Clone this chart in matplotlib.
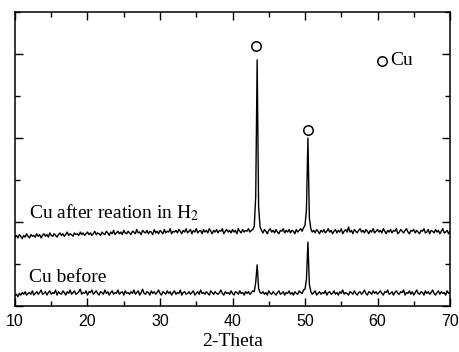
import numpy as np
import matplotlib.pyplot as plt
from matplotlib.ticker import MultipleLocator

# 2-theta grid, 10 to 70 deg in 0.2 deg steps
two_theta = np.round(np.arange(10.0, 70.0001, 0.2), 1)

# intensity (a.u.)
cu_before = [
    12, 14, 11, 15, 13, 16, 14, 17, 13, 15,
    16, 14, 18, 13, 15, 17, 14, 16, 19, 14,
    15, 17, 13, 16, 18, 14, 16, 15, 19, 13,
    17, 15, 14, 18, 16, 13, 17, 15, 19, 14,
    16, 18, 14, 15, 17, 20, 14, 16, 15, 18,
    13, 17, 16, 19, 14, 16, 18, 15, 13, 17,
    16, 14, 19, 15, 17, 13, 16, 18, 14, 16,
    15, 19, 14, 16, 17, 13, 18, 15, 16, 14,
    17, 15, 19, 14, 16, 18, 13, 16, 20, 15,
    14, 17, 16, 13, 18, 15, 17, 14, 16, 19,
    15, 13, 17, 16, 14, 18, 15, 17, 13, 16,
    18, 14, 16, 15, 19, 13, 16, 17, 14, 15,
    17, 14, 16, 18, 13, 15, 17, 14, 19, 15,
    16, 14, 17, 15, 13, 18, 16, 14, 17, 15,
    14, 16, 19, 15, 13, 17, 15, 16, 14, 18,
    15, 13, 17, 16, 14, 18, 15, 16, 13, 17,
    15, 17, 14, 16, 18, 17, 28, 49, 21, 16,
    15, 17, 14, 16, 13, 18, 15, 14, 17, 15,
    13, 16, 18, 14, 15, 17, 13, 16, 15, 18,
    14, 16, 13, 17, 15, 14, 18, 16, 15, 19,
    20, 32, 76, 26, 17, 14, 16, 18, 13, 15,
    17, 14, 16, 15, 18, 13, 16, 17, 14, 15,
    18, 14, 16, 13, 17, 15, 19, 14, 16, 15,
    13, 17, 16, 14, 18, 15, 13, 16, 17, 14,
    16, 19, 15, 13, 17, 16, 14, 18, 15, 17,
    14, 16, 18, 15, 13, 17, 16, 19, 14, 15,
    17, 13, 16, 18, 15, 14, 17, 16, 19, 13,
    16, 15, 18, 14, 17, 13, 16, 19, 15, 14,
    17, 16, 13, 18, 15, 17, 14, 16, 19, 15,
    13, 16, 18, 14, 17, 15, 16, 13, 18, 15,
    16,
]

cu_after = [
    82, 84, 81, 85, 83, 80, 84, 82, 86, 83,
    81, 85, 83, 84, 82, 86, 83, 85, 81, 84,
    86, 83, 85, 82, 87, 84, 83, 86, 84, 82,
    85, 87, 84, 86, 83, 85, 88, 84, 86, 85,
    83, 87, 85, 86, 84, 88, 85, 87, 84, 86,
    88, 85, 87, 84, 86, 89, 85, 87, 86, 84,
    88, 86, 85, 89, 87, 84, 88, 86, 90, 85,
    87, 89, 86, 88, 85, 90, 87, 86, 89, 87,
    85, 89, 88, 86, 91, 87, 88, 85, 90, 88,
    87, 90, 86, 89, 88, 85, 91, 87, 89, 86,
    90, 88, 86, 91, 87, 89, 88, 92, 86, 89,
    88, 90, 87, 91, 89, 86, 90, 88, 92, 87,
    89, 91, 86, 90, 88, 92, 87, 89, 90, 86,
    91, 88, 90, 87, 92, 89, 86, 90, 88, 91,
    87, 90, 89, 92, 86, 89, 91, 88, 90, 87,
    91, 88, 90, 86, 92, 89, 87, 91, 88, 90,
    89, 92, 88, 90, 91, 95, 130, 293, 118, 94,
    90, 87, 91, 89, 86, 90, 92, 88, 90, 87,
    91, 88, 86, 90, 89, 92, 87, 90, 88, 91,
    87, 90, 89, 86, 91, 88, 90, 92, 89, 93,
    96, 115, 200, 105, 92, 88, 90, 87, 91, 89,
    86, 90, 88, 91, 87, 89, 92, 88, 90, 86,
    89, 91, 87, 90, 88, 92, 86, 89, 91, 88,
    94, 88, 90, 86, 91, 89, 87, 90, 92, 88,
    90, 87, 91, 89, 86, 90, 88, 92, 87, 89,
    91, 88, 90, 87, 92, 89, 86, 90, 88, 91,
    87, 90, 89, 92, 86, 88, 91, 89, 87, 90,
    92, 88, 86, 90, 89, 91, 87, 90, 88, 86,
    90, 89, 92, 87, 88, 91, 86, 90, 89, 87,
    91, 88, 90, 86, 89, 92, 87, 88, 90, 86,
    89,
]

# Cu reflection markers
peak_pos = [43.3, 50.4]
peak_mark = [310, 209]

serif = 'Liberation Serif'
sans = 'Liberation Sans'

fig = plt.figure(figsize=(4.6, 3.52), dpi=100)
ax = fig.add_axes([0.0326, 0.1307, 0.9457, 0.8353])

ax.plot(two_theta, cu_before, color='black', lw=1.0)
ax.plot(two_theta, cu_after, color='black', lw=1.0)
ax.plot(peak_pos, peak_mark, 'o', ms=6.8, mfc='white', mec='black', mew=1.1)

# legend-like key
ax.plot([60.6], [292], 'o', ms=6.8, mfc='white', mec='black', mew=1.1)
ax.text(61.8, 287, 'Cu', family=serif, fontsize=14, va='baseline', ha='left')

ax.text(12.0, 104, 'Cu after reation in H$_2$', family=serif, fontsize=14,
        va='baseline', ha='left', math_fontfamily='stix')
ax.text(12.0, 29, 'Cu before', family=serif, fontsize=14, va='baseline', ha='left')

ax.set_xlim(10, 70)
ax.set_ylim(0, 350)
ax.xaxis.set_major_locator(MultipleLocator(10))
ax.xaxis.set_minor_locator(MultipleLocator(5))
ax.yaxis.set_major_locator(MultipleLocator(100))
ax.yaxis.set_minor_locator(MultipleLocator(50))
ax.set_yticklabels([])
ax.tick_params(which='both', direction='in', top=True, right=True, width=1)
ax.tick_params(which='major', length=6)
ax.tick_params(which='minor', length=3.5)
ax.tick_params(axis='x', labelsize=11.5, pad=6)
for lab in ax.get_xticklabels():
    lab.set_family(sans)
for sp in ax.spines.values():
    sp.set_linewidth(1.1)

ax.set_xlabel('2-Theta', family=serif, fontsize=14, labelpad=3)

fig.savefig('out.png', dpi=100)
